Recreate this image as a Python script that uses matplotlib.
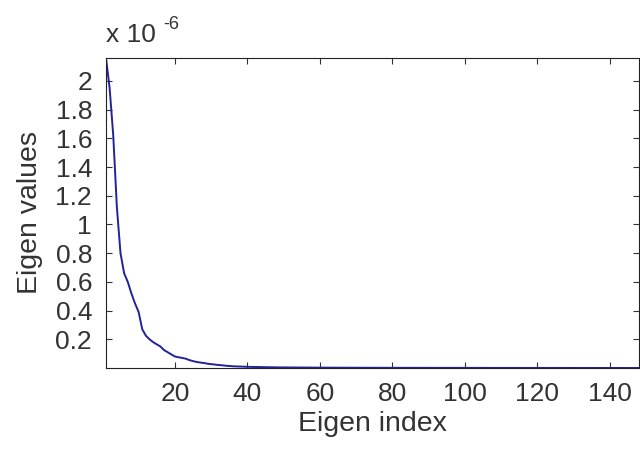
import matplotlib.pyplot as plt
from matplotlib.ticker import FuncFormatter
import numpy as np

# eigen values, in units of 1e-6
head_vals = [2.16, 1.95, 1.62, 1.12, 0.80, 0.66, 0.60, 0.52, 0.45, 0.39,
             0.27, 0.225, 0.20, 0.18, 0.165, 0.15, 0.125, 0.11, 0.095, 0.08,
             0.075, 0.07, 0.065, 0.055, 0.048, 0.042, 0.038, 0.035, 0.03, 0.027,
             0.024, 0.021, 0.019, 0.016, 0.014, 0.012, 0.011, 0.010, 0.009, 0.008]
mid_vals = [0.0075, 0.007, 0.0065, 0.006, 0.0055, 0.005, 0.0048, 0.0045, 0.0042, 0.004,
            0.0038, 0.0036, 0.0034, 0.0032, 0.003, 0.0029, 0.0028, 0.0027, 0.0026, 0.0025]
tail_vals = [0.0024, 0.0023, 0.0022, 0.0021, 0.0020, 0.0019, 0.0019, 0.0018,
             0.0018, 0.0017, 0.0017, 0.0016, 0.0016, 0.0015, 0.0015, 0.0014,
             0.0014, 0.0013, 0.0013, 0.0013, 0.0012, 0.0012, 0.0012, 0.0011,
             0.0011, 0.0011, 0.0010, 0.0010, 0.0010, 0.0010, 0.0009, 0.0009,
             0.0009, 0.0009, 0.0008, 0.0008, 0.0008, 0.0008, 0.0007, 0.0007,
             0.0007, 0.0007, 0.0007, 0.0006, 0.0006, 0.0006, 0.0006, 0.0006,
             0.0006, 0.0005, 0.0005, 0.0005, 0.0005, 0.0005, 0.0005, 0.0005,
             0.0004, 0.0004, 0.0004, 0.0004, 0.0004, 0.0004, 0.0004, 0.0004,
             0.0003, 0.0003, 0.0003, 0.0003, 0.0003, 0.0003, 0.0003, 0.0003,
             0.0003, 0.0002, 0.0002, 0.0002, 0.0002, 0.0002, 0.0002, 0.0002,
             0.0002, 0.0002, 0.0002, 0.0001, 0.0001, 0.0001, 0.0001, 0.0001]

x_ticks = [20, 40, 60, 80, 100, 120, 140]
y_ticks = [0.2, 0.4, 0.6, 0.8, 1.0, 1.2, 1.4, 1.6, 1.8, 2.0]

plt.rcParams['font.family'] = ['Liberation Sans', 'DejaVu Sans']
txt_color = '#333333'

eig_vals = np.array(head_vals + mid_vals + tail_vals) * 1e-6
eig_idx = np.arange(1, len(eig_vals) + 1)

fig = plt.figure(figsize=(6.4, 4.5), dpi=100)
ax = fig.add_axes([106 / 640, 82 / 450, 533 / 640, 310 / 450])

ax.plot(eig_idx, eig_vals, color='#22229a', linewidth=1.4)

ax.set_xlim(1, 148)
ax.set_ylim(0, 2.16e-6)
ax.set_xticks(x_ticks)
ax.set_yticks([v * 1e-6 for v in y_ticks])
ax.yaxis.set_major_formatter(FuncFormatter(lambda v, p: '%g' % round(v * 1e6, 2)))

ax.tick_params(direction='in', length=4, width=0.8, top=True, right=True,
               labelsize=19, pad=10, colors=txt_color)
for s in ax.spines.values():
    s.set_linewidth(0.8)
    s.set_color('#222222')

ax.set_xlabel('Eigen index', fontsize=20.5, color=txt_color, labelpad=4)
ax.set_ylabel('Eigen values', fontsize=20.5, color=txt_color, labelpad=9)

# multiplier like MATLAB puts it
ax.text(0.0, 1.035, 'x 10', transform=ax.transAxes, fontsize=19,
        color=txt_color, ha='left', va='bottom')
ax.text(0.108, 1.08, '-6', transform=ax.transAxes, fontsize=13,
        color=txt_color, ha='left', va='bottom')

plt.savefig('out.png', dpi=100, facecolor='white')
